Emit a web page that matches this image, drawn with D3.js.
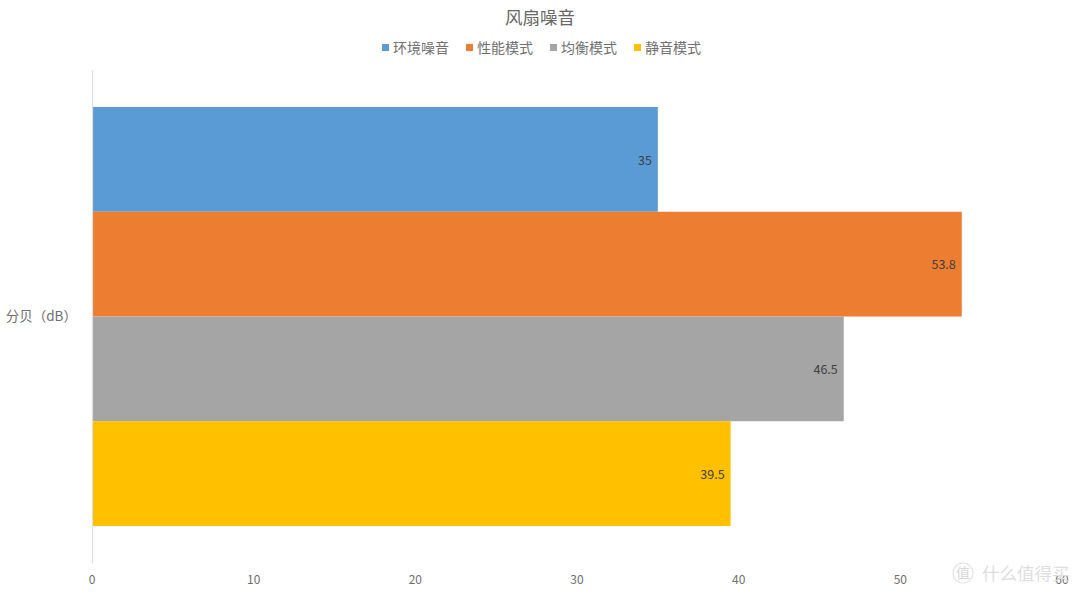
<!DOCTYPE html>
<html>
<head>
<meta charset="utf-8">
<script src="https://cdn.jsdelivr.net/npm/d3@7"></script>
<style>
html,body{margin:0;padding:0;background:#fff}
svg{display:block}
text{font-family:"Noto Sans CJK SC","Noto Sans",sans-serif}
</style>
</head>
<body>
<svg id="c" width="1080" height="595"></svg>
<script>
const chartTitle = "风扇噪音";
const category = ["分贝（dB）"];
const seriesNames = ["环境噪音", "性能模式", "均衡模式", "静音模式"];
const seriesValues = [35, 53.8, 46.5, 39.5];
const seriesColors = ["#5b9bd5", "#ed7d31", "#a5a5a5", "#ffc000"];
const tickValues = [0, 10, 20, 30, 40, 50, 60];
const watermark = "什么值得买";

const svg = d3.select("#c");
const x = d3.scaleLinear().domain([0, 60]).range([92, 1062]);
const yOuter = d3.scaleBand().domain(category).range([70, 563]).paddingInner(0).paddingOuter(0.0883);
const yInner = d3.scaleBand().domain(seriesNames).range([yOuter(category[0]), yOuter(category[0]) + yOuter.bandwidth()]);

// bars
svg.append("g").selectAll("rect").data(seriesNames).join("rect")
  .attr("x", x(0))
  .attr("y", d => yInner(d))
  .attr("width", (d, i) => x(seriesValues[i]) - x(0))
  .attr("height", yInner.bandwidth())
  .attr("fill", (d, i) => seriesColors[i]);

// category axis
const yAxis = d3.axisLeft(yOuter).tickSize(0).tickPadding(15);
const gy = svg.append("g").attr("transform", `translate(${x(0)},0)`).call(yAxis);
gy.select(".domain").attr("stroke", "#dedede").attr("stroke-width", 1.2);
gy.selectAll("text").attr("font-size", 13.5).attr("fill", "#6e6e6e");

// value axis
const xAxis = d3.axisBottom(x).tickValues(tickValues).tickSize(0).tickPadding(0);
const gx = svg.append("g").attr("transform", "translate(-0.5,575)").call(xAxis);
gx.select(".domain").remove();
gx.selectAll("text").attr("font-size", 12).attr("fill", "#6e6e6e");

// data labels
svg.append("g").selectAll("text").data(seriesNames).join("text")
  .attr("x", (d, i) => x(seriesValues[i]) - 6)
  .attr("y", d => yInner(d) + yInner.bandwidth() / 2 + 1)
  .attr("dy", "0.35em")
  .attr("text-anchor", "end")
  .attr("font-size", 12.5)
  .attr("fill", "#404040")
  .text((d, i) => seriesValues[i]);

// title
svg.append("text").attr("x", 540).attr("y", 24).attr("text-anchor", "middle")
  .attr("font-size", 17.5).attr("fill", "#666666").text(chartTitle);

// legend
const legendX = d3.scalePoint().domain(seriesNames).range([382, 634]);
const legend = svg.append("g").selectAll("g").data(seriesNames).join("g")
  .attr("transform", d => `translate(${legendX(d)},0)`);
legend.append("rect").attr("x", 0).attr("y", 44).attr("width", 7).attr("height", 7)
  .attr("fill", (d, i) => seriesColors[i]);
legend.append("text").attr("x", 11).attr("y", 53).attr("font-size", 14).attr("fill", "#707070").text(d => d);

// watermark
const wm = svg.append("g");
wm.append("circle").attr("cx", 963).attr("cy", 573).attr("r", 10).attr("fill", "none").attr("stroke", "#e2e2e2").attr("stroke-width", 1.2);
wm.append("text").attr("x", 963).attr("y", 578).attr("text-anchor", "middle").attr("font-size", 14).attr("fill", "#d6d6d6").text("值");
wm.append("text").attr("x", 982).attr("y", 580).attr("font-size", 17.5).attr("fill", "#dedede").text(watermark);
</script>
</body>
</html>
